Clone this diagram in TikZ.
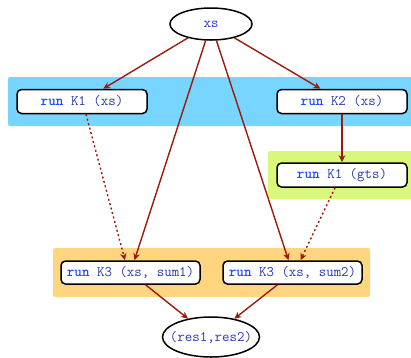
\documentclass[tikz,border=0pt]{standalone}
\usetikzlibrary{arrows.meta,shapes.geometric}
\definecolor{bandblue}{HTML}{77D5FF}
\definecolor{bandgreen}{HTML}{D9F87B}
\definecolor{bandorange}{HTML}{FFD67F}
\definecolor{edgered}{HTML}{9B1A0B}
\definecolor{codeblue}{HTML}{2A3AB0}
\definecolor{kwblue}{HTML}{1C4BFF}
\newcommand{\kw}[1]{{\bfseries\color{kwblue}#1}}
\tikzset{
  band/.style={rounded corners=2pt, draw=none},
  task/.style={draw=black, line width=1.5pt, rounded corners=4.5pt, fill=white,
    minimum height=24pt, inner sep=0pt, text=codeblue,
    font=\ttfamily\fontsize{14.5}{16}\selectfont},
  data/.style={ellipse, draw=black, line width=1.5pt, fill=white, inner sep=0pt,
    text=codeblue, font=\ttfamily\fontsize{14.5}{16}\selectfont},
  flow/.style={draw=edgered, line width=1.4pt,
    -{Stealth[length=7pt,width=6.5pt,inset=2.2pt]}},
  weak/.style={flow, dash pattern=on 2pt off 2.6pt}
}
\begin{document}
\begin{tikzpicture}[x=1pt,y=-1pt]
  \useasboundingbox (0,0) rectangle (411,357);

  % stage backgrounds
  \fill[band, bandblue]   (8,77)   rectangle (414,126);
  \fill[band, bandgreen]  (268,151) rectangle (414,199);
  \fill[band, bandorange] (53,248) rectangle (370,297);

  % data
  \node[data, minimum width=82pt, minimum height=32pt] (xs)  at (211,24) {xs};
  \node[data, minimum width=97pt, minimum height=40pt] (res) at (211,337)
    {\makebox[50pt]{(res1,res2)}};

  % kernel launches
  \node[task, minimum width=130pt] (k1xs)  at (82,101.5)  {\kw{run} K1 (xs)};
  \node[task, minimum width=130pt] (k2xs)  at (342,101.5) {\kw{run} K2 (xs)};
  \node[task, minimum width=130pt] (k1gts) at (342,175)   {\kw{run} K1 (gts)};
  \node[task, minimum width=139pt, minimum height=23pt] (k3a) at (130.5,272.5) {\kw{run} K3 (xs, sum1)};
  \node[task, minimum width=139pt, minimum height=23pt] (k3b) at (292.5,272.5) {\kw{run} K3 (xs, sum2)};

  % dependencies
  \draw[flow] (xs) -- (k1xs);
  \draw[flow] (xs) -- (k2xs);
  \draw[flow] (xs) -- (k3a);
  \draw[flow] (xs) -- (k3b);
  \draw[flow] (k2xs) -- (k1gts);
  \draw[weak] ([xshift=4pt]k1xs.south) -- ([xshift=-5.5pt]k3a.north);
  \draw[weak] ([xshift=-7pt]k1gts.south) -- ([xshift=8pt]k3b.north);
  \draw[flow] ([xshift=15pt]k3a.south) -- (res);
  \draw[flow] ([xshift=-15pt]k3b.south) -- (res);
\end{tikzpicture}
\end{document}
